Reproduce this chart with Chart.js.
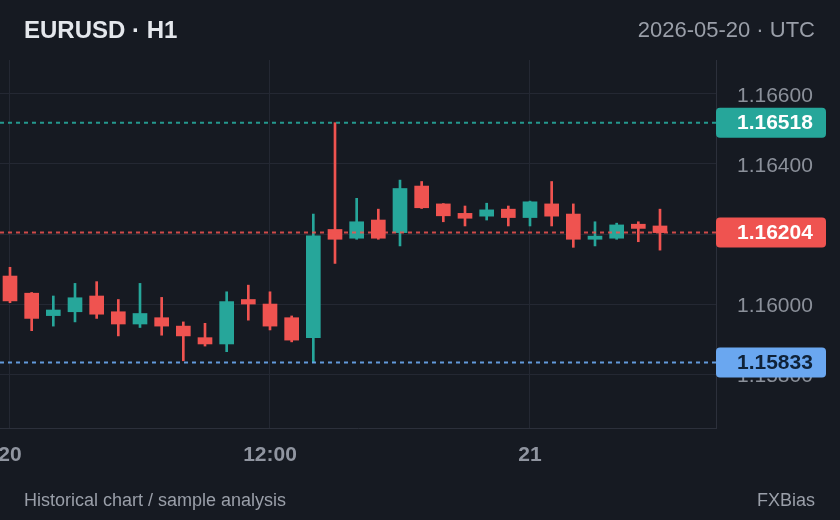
<!DOCTYPE html>
<html>
<head>
<meta charset="utf-8">
<script src="https://cdn.jsdelivr.net/npm/chart.js@4.4.1/dist/chart.umd.min.js"></script>
<style>
  html, body { margin: 0; padding: 0; background: #161a22; }
  #wrap { position: relative; width: 840px; height: 520px; overflow: hidden; background: #161a22; font-family: "Liberation Sans", Arial, sans-serif; }
  #c { position: absolute; left: 0; top: 0; }
  .t { position: absolute; white-space: nowrap; }
  #title { left: 24px; top: 18px; font-size: 24px; line-height: 24px; font-weight: bold; color: #e4e7ec; }
  #date { right: 25px; top: 19px; font-size: 22px; line-height: 22px; color: #9a9fa9; }
  #foot { left: 24px; top: 491px; font-size: 18px; line-height: 18px; color: #9a9fa9; }
  #brand { right: 25px; top: 491px; font-size: 18px; line-height: 18px; color: #9a9fa9; }
</style>
</head>
<body>
<div id="wrap">
  <canvas id="c" width="840" height="520"></canvas>
  <div class="t" id="title">EURUSD · H1</div>
  <div class="t" id="date">2026-05-20 · UTC</div>
  <div class="t" id="foot">Historical chart / sample analysis</div>
  <div class="t" id="brand">FXBias</div>
</div>
<script>
// ---- data (hourly candles, 2026-05-20 00:00 -> 2026-05-21 06:00 UTC) ----
const times = ['20 00:00','01:00','02:00','03:00','04:00','05:00','06:00','07:00','08:00','09:00','10:00','11:00',
               '12:00','13:00','14:00','15:00','16:00','17:00','18:00','19:00','20:00','21:00','22:00','23:00',
               '21 00:00','01:00','02:00','03:00','04:00','05:00','06:00'];
const opens  = [1.16080,1.16031,1.15967,1.15978,1.16023,1.15978,1.15943,1.15961,1.15937,1.15904,1.15886,1.16013,
                1.16000,1.15961,1.15904,1.16213,1.16188,1.16240,1.16204,1.16337,1.16286,1.16259,1.16251,1.16271,
                1.16247,1.16286,1.16257,1.16185,1.16188,1.16228,1.16223];
const highs  = [1.16105,1.16033,1.16023,1.16059,1.16064,1.16013,1.16059,1.16019,1.15949,1.15945,1.16035,1.16054,
                1.16035,1.15966,1.16257,1.16518,1.16302,1.16271,1.16354,1.16350,1.16287,1.16280,1.16288,1.16280,
                1.16294,1.16350,1.16286,1.16235,1.16231,1.16235,1.16271];
const lows   = [1.16004,1.15924,1.15937,1.15949,1.15959,1.15909,1.15933,1.15911,1.15838,1.15880,1.15864,1.15954,
                1.15926,1.15892,1.15833,1.16116,1.16185,1.16185,1.16166,1.16273,1.16235,1.16223,1.16240,1.16223,
                1.16223,1.16223,1.16162,1.16166,1.16185,1.16178,1.16154];
const closes = [1.16009,1.15959,1.15983,1.16018,1.15971,1.15943,1.15973,1.15937,1.15909,1.15886,1.16007,1.16000,
                1.15937,1.15897,1.16195,1.16185,1.16235,1.16188,1.16330,1.16275,1.16252,1.16245,1.16269,1.16247,
                1.16292,1.16251,1.16185,1.16194,1.16226,1.16216,1.16204];
const levelHigh = 1.16518;
const levelLast = 1.16204;
const levelLow  = 1.15833;
const yTickValues = [1.15800, 1.16000, 1.16200, 1.16400, 1.16600];
const xTickHours  = [0, 12, 24];
const xTickLabels = ['20', '12:00', '21'];
const xMin = -0.4615, xMax = 32.585;
const yMin = 1.15646, yMax = 1.16697;

// ---- styling ----
const UP = '#26a69a', DOWN = '#ef5350', BLUE = '#6aa7f0';
const FONT = '"Liberation Sans", Arial, sans-serif';
const colors = opens.map((o, i) => closes[i] >= o ? UP : DOWN);
const bodies = opens.map((o, i) => ({ x: i, y: [o, closes[i]] }));
const wicks  = lows.map((l, i) => ({ x: i, y: [l, highs[i]] }));
const hline = v => [{ x: xMin, y: v }, { x: xMax, y: v }];

const levels = [
  { v: levelHigh, bg: UP,   fg: '#ffffff' },
  { v: levelLast, bg: DOWN, fg: '#ffffff' },
  { v: levelLow,  bg: BLUE, fg: '#0f2238' }
];

const tagPlugin = {
  id: 'tags',
  afterDraw(chart) {
    const ctx = chart.ctx, ys = chart.scales.y, area = chart.chartArea;
    ctx.save();
    levels.forEach(l => {
      const py = ys.getPixelForValue(l.v);
      const x0 = area.right, w = 110, h = 30;
      ctx.fillStyle = l.bg;
      ctx.beginPath();
      ctx.roundRect(x0, py - h / 2, w, h, 4);
      ctx.fill();
      ctx.fillStyle = l.fg;
      ctx.font = 'bold 21px ' + FONT;
      ctx.textBaseline = 'middle';
      ctx.textAlign = 'left';
      ctx.fillText(l.v.toFixed(5), x0 + 21, py + 1);
    });
    ctx.restore();
  }
};

const noPad = s => { s.paddingLeft = 0; s.paddingRight = 0; s.paddingTop = 0; s.paddingBottom = 0; };

new Chart(document.getElementById('c'), {
  type: 'bar',
  data: {
    datasets: [
      { type: 'line', data: hline(levelHigh), borderColor: 'rgba(38,166,154,0.9)', borderWidth: 2, borderDash: [4, 4], pointRadius: 0, order: 0 },
      { type: 'line', data: hline(levelLast), borderColor: 'rgba(239,83,80,0.85)', borderWidth: 2, borderDash: [4, 4], pointRadius: 0, order: 0 },
      { type: 'line', data: hline(levelLow),  borderColor: 'rgba(106,167,240,0.9)', borderWidth: 2, borderDash: [4, 4], pointRadius: 0, order: 0 },
      { type: 'bar', data: bodies, backgroundColor: colors, barThickness: 14, grouped: false, order: 1 },
      { type: 'bar', data: wicks,  backgroundColor: colors, barThickness: 2,  grouped: false, order: 2 }
    ]
  },
  options: {
    responsive: false,
    animation: false,
    layout: { autoPadding: false, padding: { top: 60, left: 0, right: 0, bottom: 0 } },
    plugins: { legend: { display: false }, tooltip: { enabled: false } },
    scales: {
      x: {
        type: 'linear', min: xMin, max: xMax, offset: false,
        grid: { color: '#242833', offset: false, drawTicks: false },
        border: { color: '#2c303b' },
        afterBuildTicks: s => { s.ticks = xTickHours.map(v => ({ value: v })); },
        afterFit: s => { s.height = 92; noPad(s); },
        ticks: {
          color: '#9095a0', padding: 15, maxRotation: 0, autoSkip: false,
          font: { family: FONT, size: 21, weight: 'bold' },
          callback: v => xTickLabels[xTickHours.indexOf(v)]
        }
      },
      y: {
        type: 'linear', position: 'right', min: yMin, max: yMax,
        grid: { color: '#242833', drawTicks: false },
        border: { color: '#2c303b' },
        afterBuildTicks: s => { s.ticks = yTickValues.map(v => ({ value: v })); },
        afterFit: s => { s.width = 124; noPad(s); },
        ticks: {
          color: '#8b909a', padding: 21, labelOffset: 2,
          font: { family: FONT, size: 21 },
          callback: v => v.toFixed(5)
        }
      }
    }
  },
  plugins: [tagPlugin]
});
</script>
</body>
</html>
